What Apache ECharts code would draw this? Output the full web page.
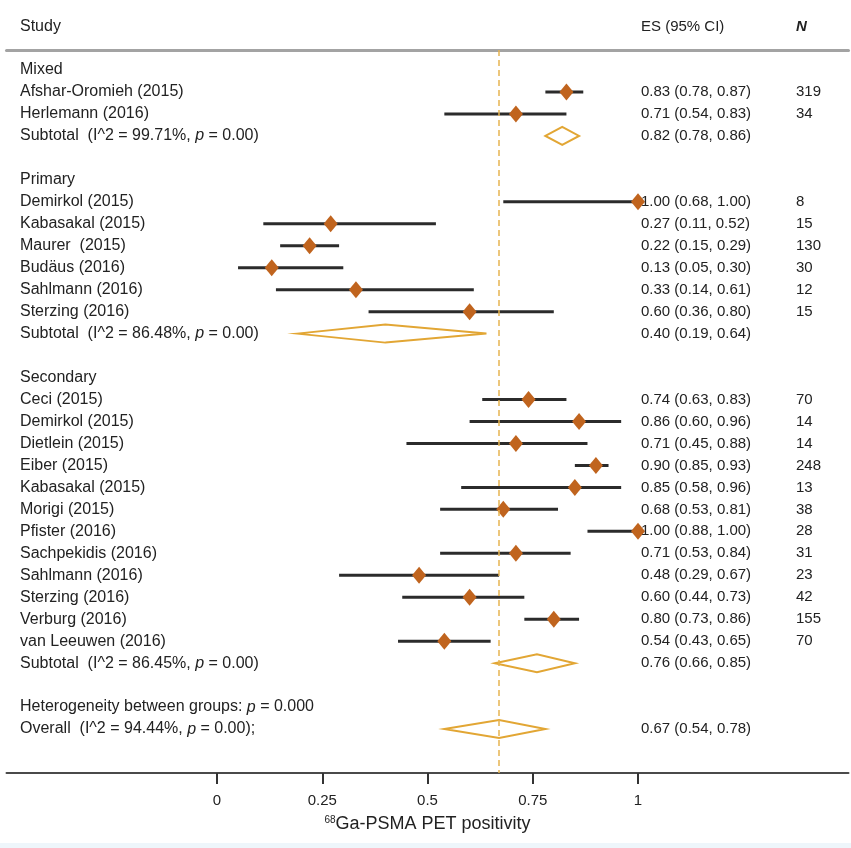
<!DOCTYPE html>
<html><head><meta charset="utf-8">
<script src="https://cdn.jsdelivr.net/npm/echarts@6/dist/echarts.min.js"></script>
<style>html,body{margin:0;padding:0;background:#fff}#c{width:851px;height:848px}</style>
</head><body><div id="c"></div>
<script>
// ---------------- data ----------------
const groupNames = ['Mixed', 'Primary', 'Secondary'];

const mixedStudies = ['Afshar-Oromieh (2015)', 'Herlemann (2016)'];
const mixedES = [0.83, 0.71];
const mixedLo = [0.78, 0.54];
const mixedHi = [0.87, 0.83];
const mixedN  = [319, 34];

const primaryStudies = ['Demirkol (2015)', 'Kabasakal (2015)', 'Maurer  (2015)', 'Budäus (2016)', 'Sahlmann (2016)', 'Sterzing (2016)'];
const primaryES = [1.00, 0.27, 0.22, 0.13, 0.33, 0.60];
const primaryLo = [0.68, 0.11, 0.15, 0.05, 0.14, 0.36];
const primaryHi = [1.00, 0.52, 0.29, 0.30, 0.61, 0.80];
const primaryN  = [8, 15, 130, 30, 12, 15];

const secondaryStudies = ['Ceci (2015)', 'Demirkol (2015)', 'Dietlein (2015)', 'Eiber (2015)', 'Kabasakal (2015)', 'Morigi (2015)', 'Pfister (2016)', 'Sachpekidis (2016)', 'Sahlmann (2016)', 'Sterzing (2016)', 'Verburg (2016)', 'van Leeuwen (2016)'];
const secondaryES = [0.74, 0.86, 0.71, 0.90, 0.85, 0.68, 1.00, 0.71, 0.48, 0.60, 0.80, 0.54];
const secondaryLo = [0.63, 0.60, 0.45, 0.85, 0.58, 0.53, 0.88, 0.53, 0.29, 0.44, 0.73, 0.43];
const secondaryHi = [0.83, 0.96, 0.88, 0.93, 0.96, 0.81, 1.00, 0.84, 0.67, 0.73, 0.86, 0.65];
const secondaryN  = [70, 14, 14, 248, 13, 38, 28, 31, 23, 42, 155, 70];

const subtotalI2 = ['99.71%', '86.48%', '86.45%'];
const subtotalP  = ['0.00', '0.00', '0.00'];
const subtotalES = [0.82, 0.40, 0.76];
const subtotalLo = [0.78, 0.19, 0.66];
const subtotalHi = [0.86, 0.64, 0.85];

const overallES = 0.67, overallLo = 0.54, overallHi = 0.78;
const overallI2 = '94.44%', overallP = '0.00';
const heterogeneityP = '0.000';

const xTicks = [0, 0.25, 0.5, 0.75, 1];
const headerLabels = ['Study', 'ES (95% CI)', 'N'];
const axisTitle = 'Ga-PSMA PET positivity';
const axisTitleSup = '68';

// ---------------- build rows ----------------
const groups = [
  [mixedStudies, mixedES, mixedLo, mixedHi, mixedN],
  [primaryStudies, primaryES, primaryLo, primaryHi, primaryN],
  [secondaryStudies, secondaryES, secondaryLo, secondaryHi, secondaryN]
];
const fmt = (e, l, h) => e.toFixed(2) + ' (' + l.toFixed(2) + ', ' + h.toFixed(2) + ')';

const studyData = [];   // [es, lo, hi, row]
const pooledData = [];  // [es, lo, hi, row]
const texts = [];       // {row, col, text}
let row = 0;
groups.forEach((g, gi) => {
  texts.push({row, col: 0, text: groupNames[gi]});
  row++;
  g[0].forEach((name, i) => {
    studyData.push([g[1][i], g[2][i], g[3][i], row]);
    texts.push({row, col: 0, text: name});
    texts.push({row, col: 1, text: fmt(g[1][i], g[2][i], g[3][i])});
    texts.push({row, col: 2, text: String(g[4][i])});
    row++;
  });
  pooledData.push([subtotalES[gi], subtotalLo[gi], subtotalHi[gi], row]);
  texts.push({row, col: 0, text: 'Subtotal  (I^2 = ' + subtotalI2[gi] + ', {i|p} = ' + subtotalP[gi] + ')'});
  texts.push({row, col: 1, text: fmt(subtotalES[gi], subtotalLo[gi], subtotalHi[gi])});
  row += 2;
});
texts.push({row, col: 0, text: 'Heterogeneity between groups: {i|p} = ' + heterogeneityP});
row++;
pooledData.push([overallES, overallLo, overallHi, row]);
texts.push({row, col: 0, text: 'Overall  (I^2 = ' + overallI2 + ', {i|p} = ' + overallP + ');'});
texts.push({row, col: 1, text: fmt(overallES, overallLo, overallHi)});

// ---------------- chart ----------------
const FONT = '"Liberation Sans", Arial, Helvetica, sans-serif';
const colX = [20, 641, 796];
const colSize = [16, 15, 15];
const chart = echarts.init(document.getElementById('c'), null, {renderer: 'canvas'});

const xAxisBase = {type: 'value', min: -0.5, max: 1.5, splitLine: {show: false}};

chart.setOption({
  animation: false,
  backgroundColor: '#ffffff',
  grid: {left: 6.5, right: 2.5, top: 50, bottom: 75, containLabel: false},
  xAxis: [
    Object.assign({}, xAxisBase, {
      position: 'bottom',
      axisLine: {show: true, onZero: false, lineStyle: {color: '#4a4a4a', width: 2}},
      axisTick: {show: true, customValues: xTicks, length: 11, lineStyle: {color: '#333', width: 2}},
      axisLabel: {show: true, customValues: xTicks, margin: 20, fontSize: 15, color: '#222', fontFamily: FONT,
                  formatter: v => String(v)},
      name: '{sup|' + axisTitleSup + '}{t|' + axisTitle + '}',
      nameLocation: 'middle',
      nameGap: 42,
      nameTextStyle: {rich: {
        sup: {fontSize: 10, fontFamily: FONT, color: '#222', verticalAlign: 'top', padding: [0, 0, 8, 0]},
        t: {fontSize: 18, fontFamily: FONT, color: '#222'}
      }}
    }),
    Object.assign({}, xAxisBase, {
      position: 'top',
      axisLine: {show: true, onZero: false, lineStyle: {color: '#a3a3a3', width: 3}},
      axisTick: {show: false},
      axisLabel: {show: false}
    })
  ],
  yAxis: {type: 'value', inverse: true, min: -0.91, max: 32, show: false},
  graphic: [
    {type: 'text', left: colX[0], top: 19, style: {text: headerLabels[0], font: '16px ' + FONT, fill: '#222'}},
    {type: 'text', left: colX[1], top: 19, style: {text: headerLabels[1], font: '15px ' + FONT, fill: '#222'}},
    {type: 'text', left: colX[2], top: 19, style: {text: headerLabels[2], font: 'italic bold 15px ' + FONT, fill: '#222'}},
    {type: 'rect', left: 0, top: 843, shape: {width: 851, height: 5}, style: {fill: '#eef6fb'}}
  ],
  series: [
    {
      type: 'custom',
      data: studyData,
      encode: {x: [0, 1, 2], y: 3},
      renderItem: (params, api) => {
        const r = api.value(3);
        const lo = api.coord([api.value(1), r]);
        const hi = api.coord([api.value(2), r]);
        const c = api.coord([api.value(0), r]);
        return {type: 'group', children: [
          {type: 'line', shape: {x1: lo[0], y1: lo[1], x2: hi[0], y2: hi[1]},
           style: {stroke: '#2b2b2b', lineWidth: 3}},
          {type: 'polygon', shape: {points: [[c[0], c[1] - 8.5], [c[0] + 7, c[1]], [c[0], c[1] + 8.5], [c[0] - 7, c[1]]]},
           style: {fill: '#c0641e'}}
        ]};
      },
      markLine: {
        silent: true, symbol: ['none', 'none'], label: {show: false},
        lineStyle: {type: [6, 4], color: '#e6b450', width: 1.5},
        data: [{xAxis: overallES}]
      },
      z: 3
    },
    {
      type: 'custom',
      data: pooledData,
      encode: {x: [0, 1, 2], y: 3},
      renderItem: (params, api) => {
        const r = api.value(3);
        const lo = api.coord([api.value(1), r]);
        const hi = api.coord([api.value(2), r]);
        const c = api.coord([api.value(0), r]);
        return {type: 'polygon',
          shape: {points: [[lo[0], lo[1]], [c[0], c[1] - 9], [hi[0], hi[1]], [c[0], c[1] + 9]]},
          style: {fill: 'rgba(255,255,255,0)', stroke: '#e2a634', lineWidth: 2, lineJoin: 'miter'}};
      },
      z: 3
    },
    {
      type: 'custom',
      data: texts.map(t => [0, t.row]),
      encode: {x: 0, y: 1},
      renderItem: (params, api) => {
        const t = texts[params.dataIndex];
        const p = api.coord([0, api.value(1)]);
        const fs = colSize[t.col];
        return {type: 'text', x: colX[t.col], y: p[1],
          style: {text: t.text, fill: '#222', fontSize: fs, fontFamily: FONT,
                  verticalAlign: 'middle', align: 'left',
                  rich: {i: {fontStyle: 'italic', fontSize: fs, fontFamily: FONT, fill: '#222'}}}};
      },
      z: 4
    }
  ]
});
</script>
</body></html>
